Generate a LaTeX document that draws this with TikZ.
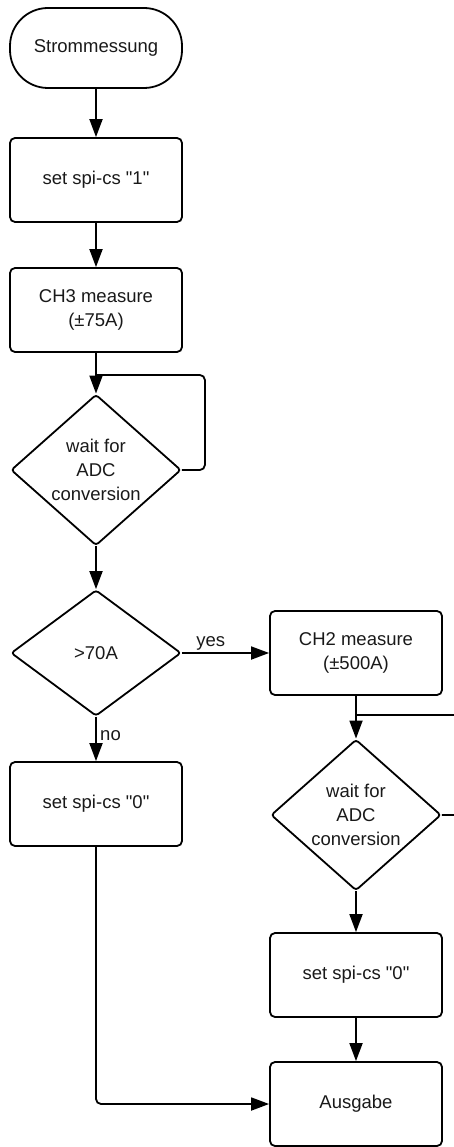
\documentclass[tikz,border=0pt]{standalone}
\usepackage{fontspec}
\setmainfont{Liberation Sans}
\usetikzlibrary{shapes.geometric,arrows.meta}

\begin{document}
\begin{tikzpicture}[
  x=1pt, y=-1pt,
  font={\fontsize{18.5}{24}\selectfont},
  every node/.style={text=black!90},
  terminal/.style={draw, line width=1.8pt, rounded corners=38pt, minimum width=172pt, minimum height=80pt},
  process/.style={draw, line width=1.8pt, rounded corners=5pt, minimum width=172pt, minimum height=84pt, align=center},
  decision/.style={draw, diamond, line width=1.8pt, rounded corners=3pt, inner sep=0pt, minimum width=170pt, minimum height=146pt, align=center},
  flow/.style={line width=1.8pt, -{Triangle[length=18pt,width=13pt]}},
  loop/.style={line width=1.8pt, rounded corners=5pt},
]
\useasboundingbox (0,0) rectangle (453,1147);

% left column: measure with CH3 first
\node[terminal] (start) at (96,48)  {Strommessung};
\node[process]  (cs1)   at (96,180) {set spi-cs \textquotedbl1\textquotedbl};
\node[process]  (ch3)   at (96,310) {CH3 measure\\(±75A)};
\node[decision] (wait1) at (96,470) {wait for\\ADC\\conversion};
\node[decision, minimum height=126pt] (thr) at (96,653) {>70A};
\node[process]  (cs0a)  at (96,804) {set spi-cs \textquotedbl0\textquotedbl};

% right column: range switch to CH2
\node[process]  (ch2)   at (356,653)  {CH2 measure\\(±500A)};
\node[decision] (wait2) at (356,815)  {wait for\\ADC\\conversion};
\node[process]  (cs0b)  at (356,975)  {set spi-cs \textquotedbl0\textquotedbl};
\node[process]  (out)   at (356,1104) {Ausgabe};

% main flow
\draw[flow] (start) -- (cs1);
\draw[flow] (cs1) -- (ch3);
\draw[flow] (ch3) -- (wait1);
\draw[flow] (wait1) -- (thr);
\draw[flow] (thr) -- node[above, pos=0.33, inner sep=2pt] {yes} (ch2);
\draw[flow] (thr) -- node[right, pos=0.42] {no} (cs0a);
\draw[flow] (ch2) -- (wait2);
\draw[flow] (wait2) -- (cs0b);
\draw[flow] (cs0b) -- (out);
\draw[flow, rounded corners=5pt] (cs0a) |- (out);

% busy-wait loops back into the incoming line
\coordinate (back1) at (96,375);
\draw[loop] (wait1.east) -- ++(23,0) |- (back1);
\coordinate (back2) at (356,715);
\draw[loop] (wait2.east) -- ++(30,0) |- (back2);
\end{tikzpicture}
\end{document}
